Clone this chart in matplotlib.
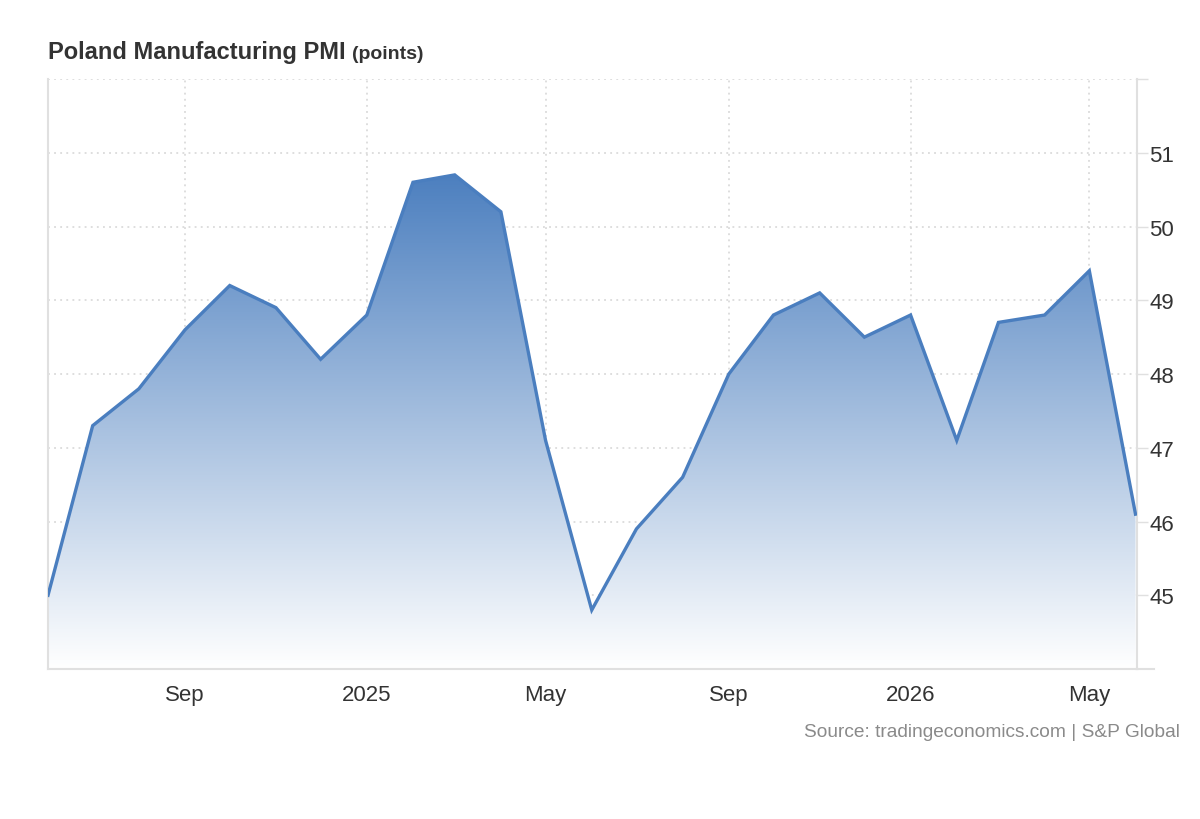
import matplotlib
matplotlib.use("Agg")
import matplotlib.pyplot as plt
import matplotlib.dates as mdates
import numpy as np
import pandas as pd

plt.rcParams['font.family'] = ['Liberation Sans', 'DejaVu Sans']

# monthly Poland manufacturing PMI, Jun 2024 - Jun 2026
months = pd.date_range('2024-06-01', '2026-06-01', freq='MS')
pmi = [45.0, 47.3, 47.8, 48.6, 49.2, 48.9, 48.2,
       48.8, 50.6, 50.7, 50.2, 47.1, 44.8, 45.9, 46.6, 48.0, 48.8, 49.1, 48.5,
       48.8, 47.1, 48.7, 48.8, 49.4, 46.1]
ytick_vals = [45, 46, 47, 48, 49, 50, 51, 52]
ytick_labels = ['45', '46', '47', '48', '49', '50', '51', '']
xtick_dates = pd.to_datetime(['2024-09-01', '2025-01-01', '2025-05-01',
                              '2025-09-01', '2026-01-01', '2026-05-01'])
xtick_labels = ['Sep', '2025', 'May', 'Sep', '2026', 'May']

line_col = '#4a7ebf'
grid_col = '#d4d4d4'
spine_col = '#e0e0e0'
text_col = '#333333'

fig = plt.figure(figsize=(12, 8.2), dpi=100)
ax = fig.add_axes([0.04, 0.1829, 0.9075, 0.7195])

ymin, ymax = 44, 52
x = mdates.date2num(months)

# gradient fill under the line
fill = ax.fill_between(x, pmi, ymin, color='none', lw=0)
top = max(pmi)
grad = np.linspace(0, 1, 256).reshape(-1, 1)
c_top = np.array([0.30, 0.50, 0.75])
c_bot = np.array([1.0, 1.0, 1.0])
img = c_bot + (c_top - c_bot) * grad[..., None] * np.ones((1, 2, 1))
im = ax.imshow(img, extent=[x[0], x[-1], ymin, top], origin='lower',
               aspect='auto', zorder=1, interpolation='bilinear')
path = fill.get_paths()[0]
im.set_clip_path(path, transform=ax.transData)

ax.plot(x, pmi, color=line_col, lw=2.4, zorder=3, solid_joinstyle='miter')

ax.set_xlim(x[0], x[-1] + 1)
ax.set_ylim(ymin, ymax)

ax.set_yticks(ytick_vals)
ax.set_yticklabels(ytick_labels)
ax.set_xticks(mdates.date2num(xtick_dates))
ax.set_xticklabels(xtick_labels)

ax.yaxis.tick_right()
ax.tick_params(axis='y', length=8, width=1, color=spine_col, pad=1,
               labelsize=16, labelcolor=text_col)
ax.tick_params(axis='x', length=0, pad=11, labelsize=16, labelcolor=text_col)

ax.grid(True, color=grid_col, linestyle=(0, (1.2, 2.8)), linewidth=1.1)
ax.set_axisbelow(True)

ax.spines['top'].set_visible(False)
for s in ['left', 'right', 'bottom']:
    ax.spines[s].set_color(spine_col)
    ax.spines[s].set_linewidth(1.5)
ax.plot([1, 1.016], [0, 0], transform=ax.transAxes, color=spine_col,
        lw=1.5, clip_on=False)

t1 = fig.text(0.04, 0.928, 'Poland Manufacturing PMI', fontsize=17,
              fontweight='bold', color=text_col, va='baseline')
fig.canvas.draw()
bb = t1.get_window_extent()
fig.text(bb.x1 / fig.bbox.width + 0.005, 0.928, '(points)', fontsize=14,
         fontweight='bold', color=text_col, va='baseline')

fig.text(0.983, 0.107, 'Source: tradingeconomics.com | S&P Global',
         fontsize=13.8, color='#8a8a8a', ha='right', va='center')

fig.savefig('out.png', dpi=100)
